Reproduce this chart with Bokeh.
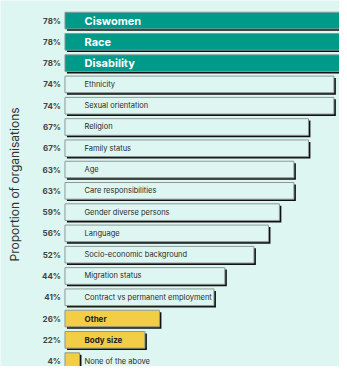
from bokeh.plotting import figure
from bokeh.models import Range1d, ColumnDataSource, Label
from bokeh.core.properties import value
from bokeh.embed import file_html
from bokeh.resources import INLINE

categories = ["Ciswomen", "Race", "Disability", "Ethnicity", "Sexual orientation",
              "Religion", "Family status", "Age", "Care responsibilities",
              "Gender diverse persons", "Language", "Socio-economic background",
              "Migration status", "Contract vs permanent employment", "Other",
              "Body size", "None of the above"]
values = [78, 78, 78, 74, 74, 67, 67, 63, 63, 59, 56, 52, 44, 41, 26, 22, 4]
groups = ["top"] * 3 + ["mid"] * 11 + ["low"] * 3
bold_labels = ["Ciswomen", "Race", "Disability", "Other", "Body size"]

BG = "#ddf6f1"
TEAL = "#009a8b"
YELLOW = "#f2ce47"

W, H = 339, 366
SX = W / 347.0
SY = H / 374.0
x0_px = 66.0 * SX
px_per_pct = 3.72 * SX
row_px = 21.75 * SY
first_row_px = 20.5 * SY

xs = -x0_px / px_per_pct
xe = (W - x0_px) / px_per_pct
ys = -first_row_px / row_px
ye = (H - first_row_px) / row_px

p = figure(width=W, height=H, output_backend="svg", toolbar_location=None,
           x_range=Range1d(xs, xe), y_range=Range1d(ye, ys),
           min_border=0, min_border_left=0, min_border_right=0,
           min_border_top=0, min_border_bottom=0,
           background_fill_color=BG, border_fill_color=BG, outline_line_color=None)
p.xaxis.visible = False
p.yaxis.visible = False
p.xgrid.visible = False
p.ygrid.visible = False

n = len(categories)
rows = list(range(n))
fills = [TEAL if g == "top" else (YELLOW if g == "low" else BG) for g in groups]
bar_h = 17.0 * SY / row_px
dx = 2.0 * SX / px_per_pct
dy = 2.0 * SY / row_px

shadow = ColumnDataSource(dict(y=[r + dy for r in rows], right=[v + dx for v in values],
                               left=[dx] * n))
p.hbar(y="y", left="left", right="right", height=bar_h, source=shadow,
       fill_color="#111111", line_color=None)

src = ColumnDataSource(dict(y=rows, right=values, fill=fills))
p.hbar(y="y", left=0, right="right", height=bar_h, source=src,
       fill_color="fill", line_color="#8b9995", line_width=1)

pct = ColumnDataSource(dict(x=[0] * n, y=rows, t=[f"{v}%" for v in values]))
p.text(x="x", y="y", text="t", source=pct, x_offset=-4, text_align="right",
       text_baseline="middle", text_font=value("Inter"), text_font_size="8px",
       text_font_style="bold", text_color="#444444")

def add_labels(idx, color, size, style):
    s = ColumnDataSource(dict(x=[0] * len(idx), y=[rows[i] for i in idx],
                              t=[categories[i] for i in idx]))
    p.text(x="x", y="y", text="t", source=s, x_offset=20 * SX, text_align="left",
           text_baseline="middle", text_font=value("Inter"), text_font_size=size,
           text_font_style=style, text_color=color)

top_idx = [i for i, g in enumerate(groups) if g == "top"]
low_bold = [i for i, g in enumerate(groups) if g == "low" and categories[i] in bold_labels]
plain = [i for i, g in enumerate(groups) if g != "top" and categories[i] not in bold_labels]

add_labels(top_idx, "white", "11px", "bold")
add_labels(plain, "#2a2a2a", "7.5px", "normal")
add_labels(low_bold, "#222222", "8px", "bold")

p.add_layout(Label(x=14 * SX, y=H - 188 * SY, x_units="screen", y_units="screen",
                   text="Proportion of organisations", angle=90, angle_units="deg",
                   text_align="center", text_baseline="middle",
                   text_font="Inter", text_font_size="12px", text_color="#333333"))

html = file_html(p, INLINE)
html = html.replace("<body", '<body style="background:#ddf6f1"', 1)
open("out.html", "w").write(html)
